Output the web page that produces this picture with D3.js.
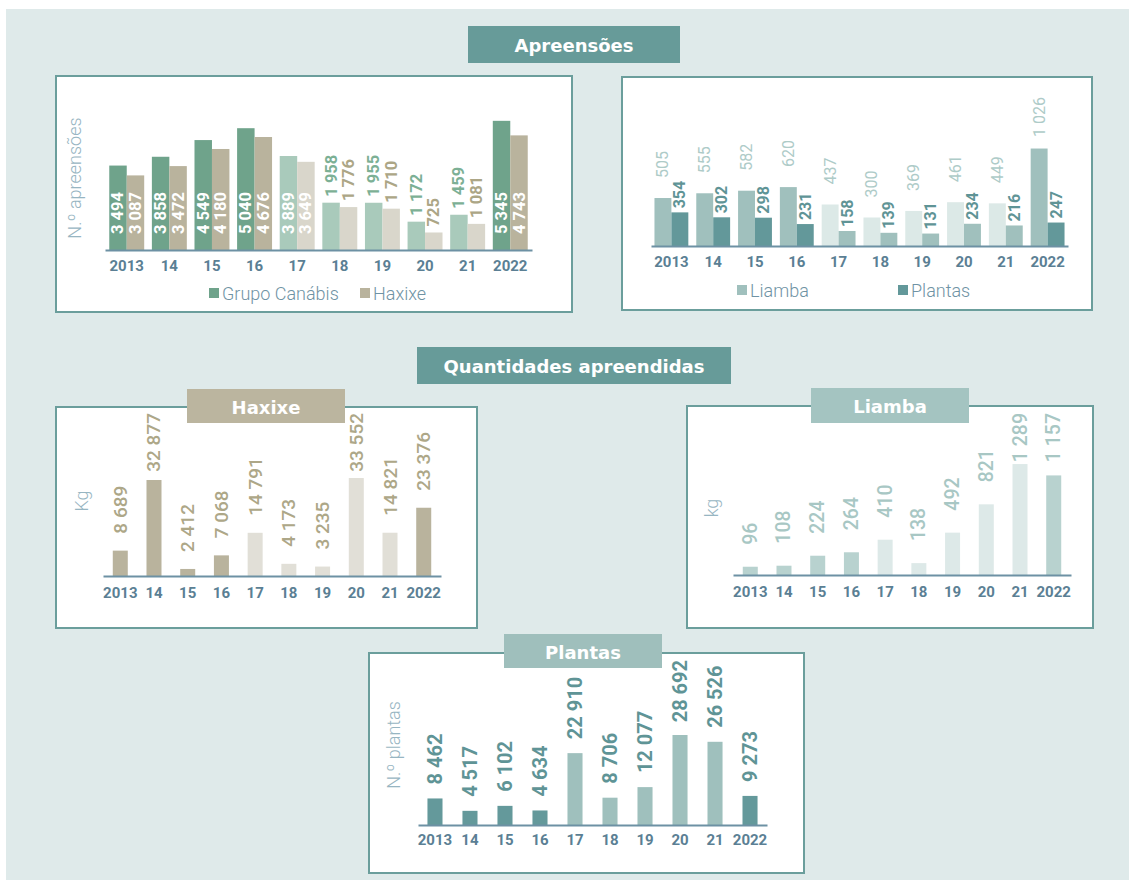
<!DOCTYPE html>
<html>
<head>
<meta charset="utf-8">
<script src="https://cdn.jsdelivr.net/npm/d3@7"></script>
<style>
  html, body { margin: 0; padding: 0; background: #ffffff; }
  svg { display: block; }
</style>
</head>
<body>
<svg id="chart" width="1129" height="880"></svg>
<script>
// ---- data ----
const years = ["2013", "14", "15", "16", "17", "18", "19", "20", "21", "2022"];
const fadedYears = ["17", "18", "19", "20", "21"];

// Apreensões (n.º)
const apreensoesCanabis = [3494, 3858, 4549, 5040, 3889, 1958, 1955, 1172, 1459, 5345];
const apreensoesHaxixe = [3087, 3472, 4180, 4676, 3649, 1776, 1710, 725, 1081, 4743];
const apreensoesLiamba = [505, 555, 582, 620, 437, 300, 369, 461, 449, 1026];
const apreensoesPlantas = [354, 302, 298, 231, 158, 139, 131, 234, 216, 247];

// Quantidades apreendidas
const quantidadeHaxixeKg = [8689, 32877, 2412, 7068, 14791, 4173, 3235, 33552, 14821, 23376];
const quantidadeLiambaKg = [96, 108, 224, 264, 410, 138, 492, 821, 1289, 1157];
const quantidadePlantas = [8462, 4517, 6102, 4634, 22910, 8706, 12077, 28692, 26526, 9273];

const legendApreensoes1 = ["Grupo Canábis", "Haxixe"];
const legendApreensoes2 = ["Liamba", "Plantas"];

// ---- formatting ----
const fmt = d3.formatLocale({ decimal: ",", thousands: " ", grouping: [3], currency: ["", ""] }).format(",d");
const isFaded = i => fadedYears.includes(years[i]);

const svg = d3.select("#chart");
const NUM_FONT = "Roboto, 'Open Sans', sans-serif";
const HEAD_FONT = "'DejaVu Sans', Verdana, sans-serif";
const TICK_COLOR = "#5b7f94";
const AXIS_COLOR = "#6d91a4";
const BORDER = "#6b9e9c";

// page background
svg.append("rect").attr("x", 6).attr("y", 9).attr("width", 1123).attr("height", 871).attr("fill", "#dfeaea");

function panel(x, y, w, h) {
  svg.append("rect").attr("x", x).attr("y", y).attr("width", w).attr("height", h)
    .attr("fill", "#ffffff").attr("stroke", BORDER).attr("stroke-width", 2);
}

function header(x, y, w, h, fill, label) {
  svg.append("rect").attr("x", x).attr("y", y).attr("width", w).attr("height", h).attr("fill", fill);
  svg.append("text").attr("x", x + w / 2).attr("y", y + h / 2 + 1)
    .attr("text-anchor", "middle").attr("dominant-baseline", "central")
    .attr("font-family", HEAD_FONT).attr("font-weight", 700).attr("font-size", 18)
    .attr("fill", "#ffffff").text(label);
}

function yTitle(x, y, label) {
  svg.append("text").attr("transform", `translate(${x},${y}) rotate(-90)`)
    .attr("text-anchor", "middle").attr("dominant-baseline", "central")
    .attr("font-family", NUM_FONT).attr("font-weight", 300).attr("font-size", 18)
    .attr("fill", "#97b5c2").text(label);
}

function legendItem(x, y, color, label) {
  svg.append("rect").attr("x", x).attr("y", y - 5).attr("width", 10).attr("height", 10).attr("fill", color);
  svg.append("text").attr("x", x + 13).attr("y", y).attr("dominant-baseline", "central")
    .attr("font-family", NUM_FONT).attr("font-weight", 300).attr("font-size", 18)
    .attr("fill", "#6f93a4").text(label);
}

// Generic vertical bar chart with one or more series per year
function barChart(cfg) {
  const x = d3.scaleBand().domain(years).range([cfg.x0, cfg.x1])
    .paddingInner(cfg.padInner).paddingOuter(cfg.padOuter);
  const y = d3.scaleLinear().domain([0, cfg.max]).range([cfg.base, cfg.base - cfg.height]);
  const sub = d3.scaleBand().domain(d3.range(cfg.series.length)).range([0, x.bandwidth()]);

  cfg.series.forEach((s, si) => {
    const g = svg.append("g");
    g.selectAll("rect").data(s.values).join("rect")
      .attr("x", (d, i) => x(years[i]) + sub(si))
      .attr("y", d => y(d))
      .attr("width", sub.bandwidth())
      .attr("height", d => cfg.base - y(d))
      .attr("fill", (d, i) => s.fill(i));

    g.selectAll("text").data(s.values).join("text")
      .attr("text-anchor", "start").attr("dominant-baseline", "central")
      .attr("font-family", NUM_FONT).attr("font-weight", s.labelWeight).attr("font-size", s.labelSize)
      .text(d => fmt(d))
      .each(function (d, i) {
        const t = d3.select(this);
        const len = this.getComputedTextLength();
        const cx = x(years[i]) + sub(si) + sub.bandwidth() / 2;
        const barH = cfg.base - y(d);
        let yb, color;
        if (s.inside && barH >= len + 20) {
          yb = cfg.base - 16;
          color = "#ffffff";
        } else {
          yb = Math.max(y(d) - s.gap, cfg.labelTop + len);
          color = s.labelColor(i);
        }
        t.attr("transform", `translate(${cx},${yb}) rotate(-90)`).attr("fill", color);
      });
  });

  const axis = svg.append("g").attr("transform", `translate(0,${cfg.base})`)
    .call(d3.axisBottom(x).tickSize(0).tickSizeOuter(0).tickPadding(cfg.tickPad));
  axis.select(".domain").attr("stroke", AXIS_COLOR).attr("stroke-width", 2);
  axis.selectAll(".tick text")
    .attr("font-family", NUM_FONT).attr("font-weight", 700).attr("font-size", 15)
    .attr("fill", TICK_COLOR);
}

// ---------- Apreensões ----------
header(468, 26, 212, 37, "#679b99", "Apreensões");

// Grupo Canábis / Haxixe
panel(56, 76, 516, 236);
yTitle(74, 178, "N.º apreensões");
barChart({
  x0: 105, x1: 532, base: 250, max: 6000, height: 145,
  padInner: 0.18, padOuter: 0.1, tickPad: 10, labelTop: 90,
  series: [
    { values: apreensoesCanabis, fill: i => isFaded(i) ? "#a9cabb" : "#6fa38b",
      inside: true, gap: 6, labelSize: 16.5, labelWeight: 700, labelColor: () => "#7cb095" },
    { values: apreensoesHaxixe, fill: i => isFaded(i) ? "#d9d6cb" : "#b9b39d",
      inside: true, gap: 6, labelSize: 16.5, labelWeight: 700, labelColor: () => "#aca686" }
  ]
});
legendItem(209, 293, "#6fa38b", legendApreensoes1[0]);
legendItem(360, 293, "#b9b39d", legendApreensoes1[1]);

// Liamba / Plantas
panel(622, 77, 470, 233);
barChart({
  x0: 651, x1: 1068, base: 246, max: 1200, height: 114,
  padInner: 0.19, padOuter: 0.083, tickPad: 10, labelTop: 97,
  series: [
    { values: apreensoesLiamba, fill: i => isFaded(i) ? "#dce9e7" : "#a0c0bd",
      inside: false, gap: 20, labelSize: 16, labelWeight: 400, labelColor: () => "#aecbc8" },
    { values: apreensoesPlantas, fill: i => isFaded(i) ? "#a0c0bd" : "#63989a",
      inside: false, gap: 4, labelSize: 16, labelWeight: 700, labelColor: () => "#5f9496" }
  ]
});
legendItem(737, 290, "#a0c0bd", legendApreensoes2[0]);
legendItem(898, 290, "#63989a", legendApreensoes2[1]);

// ---------- Quantidades apreendidas ----------
header(417, 347, 314, 37, "#679b99", "Quantidades apreendidas");

// Haxixe (kg)
panel(56, 407, 421, 221);
header(187, 389, 158, 34, "#bbb59f", "Haxixe");
yTitle(81, 501, "Kg");
barChart({
  x0: 103, x1: 441, base: 576, max: 35000, height: 102.2,
  padInner: 0.555, padOuter: 0.29, tickPad: 11, labelTop: 413,
  series: [
    { values: quantidadeHaxixeKg, fill: i => isFaded(i) ? "#e1dfd7" : "#b9b39d",
      inside: false, gap: 17, labelSize: 19, labelWeight: 500, labelColor: () => "#ada788" }
  ]
});

// Liamba (kg)
panel(687, 406, 406, 222);
header(811, 388, 158, 35, "#a4c4c1", "Liamba");
yTitle(711, 508, "kg");
barChart({
  x0: 733, x1: 1071, base: 575, max: 1400, height: 120.5,
  padInner: 0.555, padOuter: 0.29, tickPad: 11, labelTop: 413,
  series: [
    { values: quantidadeLiambaKg, fill: i => isFaded(i) ? "#dde9e8" : "#b8d2cf",
      inside: false, gap: 22, labelSize: 19.5, labelWeight: 500, labelColor: () => "#a8c7c4" }
  ]
});

// Plantas (n.º)
panel(369, 653, 435, 220);
header(504, 634, 158, 34, "#9fbfbc", "Plantas");
yTitle(393, 745, "N.º plantas");
barChart({
  x0: 418, x1: 767, base: 825, max: 30000, height: 94.1,
  padInner: 0.57, padOuter: 0.27, tickPad: 9, labelTop: 660,
  series: [
    { values: quantidadePlantas, fill: i => isFaded(i) ? "#9fc0bd" : "#64999b",
      inside: false, gap: 14, labelSize: 20, labelWeight: 700, labelColor: () => "#5f9496" }
  ]
});
</script>
</body>
</html>
